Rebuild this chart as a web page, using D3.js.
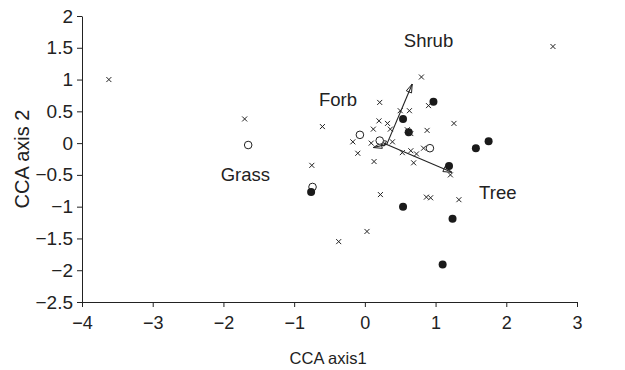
<!DOCTYPE html>
<html>
<head>
<meta charset="utf-8">
<script src="https://cdn.jsdelivr.net/npm/d3@7"></script>
<style>
  body { margin: 0; background: #fff; }
  text { font-family: "Liberation Sans", Arial, sans-serif; fill: #222; }
</style>
</head>
<body>
<script>
'use strict';

// site scores, split by symbol
const crossX = [-3.62, 2.66, -1.70, 0.80, 0.21, 0.90, 0.50, 0.63, 1.26, -0.60, 0.20, 0.32, 0.12, 0.36, -0.17, 0.09, 0.39, -0.10, 0.13, -0.75, 0.53, 0.65, 0.73, 0.83, 0.69, 0.88, 0.60, 0.65, 1.21, 0.22, 0.87, 0.93, 1.33, 0.03, -0.37];
const crossY = [1.00, 1.52, 0.38, 1.04, 0.64, 0.59, 0.51, 0.51, 0.31, 0.26, 0.35, 0.31, 0.22, 0.22, 0.02, 0.00, 0.02, -0.16, -0.29, -0.35, -0.15, -0.12, -0.17, -0.08, -0.31, 0.20, 0.21, 0.15, -0.50, -0.81, -0.85, -0.86, -0.89, -1.39, -1.55];

const filledX = [-0.76, 0.54, 0.97, 0.62, 1.19, 1.57, 1.75, 0.54, 1.24, 1.10];
const filledY = [-0.77, 0.38, 0.65, 0.17, -0.36, -0.08, 0.03, -1.00, -1.19, -1.91];

const openX = [-1.65, -0.07, 0.21, 0.92, -0.74];
const openY = [-0.03, 0.13, 0.04, -0.08, -0.69];

// environmental arrows
const arrowNames = ["Shrub", "Tree", "Grass", "Forb"];
const arrowX0 = [0.31, 0.31, 0.31, 0.31];
const arrowY0 = [-0.02, -0.02, -0.02, -0.02];
const arrowX1 = [0.67, 1.23, 0.12, 0.18];
const arrowY1 = [0.93, -0.46, -0.07, 0.05];

// labels for the arrows
const labelText = ["Shrub", "Forb", "Grass", "Tree"];
const labelX = [0.90, -0.38, -1.69, 1.88];
const labelY = [1.51, 0.58, -0.60, -0.88];

const xTicks = [-4, -3, -2, -1, 0, 1, 2, 3];
const yTicks = [2, 1.5, 1, 0.5, 0, -0.5, -1, -1.5, -2, -2.5];

const margin = {top: 16, left: 82};
const width = 495, height = 286;

const svg = d3.select('body').append('svg')
  .attr('width', 625)
  .attr('height', 370);

const g = svg.append('g')
  .attr('transform', 'translate(' + margin.left + ',' + margin.top + ')');

const x = d3.scaleLinear().domain([-4, 3]).range([0, width]);
const y = d3.scaleLinear().domain([-2.5, 2]).range([height, 0]);
const fmt = d3.format('');

// axes
const xAxis = g.append('g')
  .attr('transform', 'translate(0,' + height + ')')
  .call(d3.axisBottom(x).tickValues(xTicks).tickFormat(fmt).tickSizeInner(5).tickSizeOuter(0).tickPadding(9));
const yAxis = g.append('g')
  .call(d3.axisLeft(y).tickValues(yTicks).tickFormat(fmt).tickSizeInner(5).tickSizeOuter(0).tickPadding(4));

[xAxis, yAxis].forEach(function(a) {
  a.selectAll('path, line').attr('stroke', '#222');
  a.selectAll('text').attr('fill', '#222')
    .style('font-family', '"Liberation Sans", Arial, sans-serif');
});
xAxis.selectAll('text').style('font-size', '18px');
yAxis.selectAll('text').style('font-size', '19px');

svg.append('text')
  .attr('x', margin.left + x(-0.52))
  .attr('y', 364)
  .attr('text-anchor', 'middle')
  .style('font-size', '16.5px')
  .text('CCA axis1');

svg.append('text')
  .attr('transform', 'translate(29,' + (margin.top + y(-0.25)) + ')rotate(-90)')
  .attr('text-anchor', 'middle')
  .style('font-size', '20px')
  .text('CCA axis 2');

// arrows
function drawArrow(i) {
  const x0 = x(arrowX0[i]), y0 = y(arrowY0[i]);
  const x1 = x(arrowX1[i]), y1 = y(arrowY1[i]);
  const ang = Math.atan2(y1 - y0, x1 - x0);
  const len = 9, spread = 0.32;
  g.append('line')
    .attr('x1', x0).attr('y1', y0).attr('x2', x1).attr('y2', y1)
    .attr('stroke', '#222').attr('stroke-width', 1.1);
  const p1 = [x1 - len * Math.cos(ang - spread), y1 - len * Math.sin(ang - spread)];
  const p2 = [x1 - len * Math.cos(ang + spread), y1 - len * Math.sin(ang + spread)];
  g.append('path')
    .attr('d', 'M' + p1 + 'L' + [x1, y1] + 'L' + p2 + 'Z')
    .attr('fill', 'none')
    .attr('stroke', '#222')
    .attr('stroke-width', 1);
}
arrowNames.forEach(function(d, i) { drawArrow(i); });

// points
const crosses = crossX.map((v, i) => [v, crossY[i]]);
const filled = filledX.map((v, i) => [v, filledY[i]]);
const open = openX.map((v, i) => [v, openY[i]]);

g.selectAll('.open').data(open).enter()
  .append('circle')
  .attr('cx', d => x(d[0]))
  .attr('cy', d => y(d[1]))
  .attr('r', 3.8)
  .attr('fill', '#fff')
  .attr('stroke', '#222')
  .attr('stroke-width', 1);

g.selectAll('.filled').data(filled).enter()
  .append('circle')
  .attr('cx', d => x(d[0]))
  .attr('cy', d => y(d[1]))
  .attr('r', 4)
  .attr('fill', '#1a1a1a');

const s = 2.5;
g.selectAll('.cross').data(crosses).enter()
  .append('path')
  .attr('d', d => {
    const cx = x(d[0]), cy = y(d[1]);
    return 'M' + (cx - s) + ',' + (cy - s) + 'L' + (cx + s) + ',' + (cy + s) +
      'M' + (cx - s) + ',' + (cy + s) + 'L' + (cx + s) + ',' + (cy - s);
  })
  .attr('stroke', '#222')
  .attr('stroke-width', 1);

// arrow labels
labelText.forEach(function(t, i) {
  g.append('text')
    .attr('x', x(labelX[i]))
    .attr('y', y(labelY[i]))
    .attr('text-anchor', 'middle')
    .style('font-size', '18.5px')
    .text(t);
});
</script>
</body>
</html>
